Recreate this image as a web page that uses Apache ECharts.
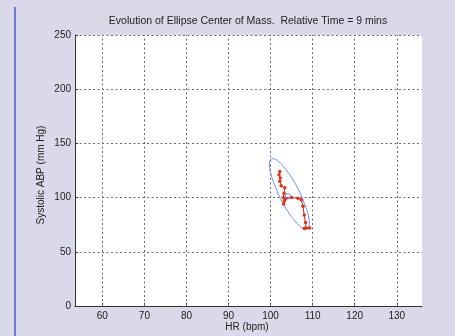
<!DOCTYPE html>
<html><head><meta charset="utf-8">
<script src="https://cdn.jsdelivr.net/npm/echarts@6/dist/echarts.min.js"></script>
<style>html,body{margin:0;padding:0;background:#d9d9e9}#c{width:455px;height:336px}</style>
</head><body><div id="c"></div><script>
const titleText = 'Evolution of Ellipse Center of Mass.  Relative Time = 9 mins';
const xName = 'HR (bpm)';
const yName = 'Systolic ABP (mm Hg)';
const xTicks = [60, 70, 80, 90, 100, 110, 120, 130];
const yTicks = [0, 50, 100, 150, 200, 250];
// ellipse outline
const ellipseHR  = [100.2, 101.3, 102.9, 104.8, 106.6, 108.0, 109.0, 109.2, 108.7, 107.6, 106.0, 104.1, 102.3, 100.9, 99.95, 99.7, 100.2];
const ellipseABP = [136.0, 135.1, 129.4, 119.8, 107.7, 94.9, 83.5, 75.1, 71.0, 71.9, 77.6, 87.2, 99.3, 112.1, 123.5, 131.9, 136.0];
// trajectory of the centre of mass
const pathHR  = [102.2, 102.0, 102.3, 102.2, 102.5, 103.4, 103.2, 103.0, 103.3, 103.1, 103.6, 105.0, 106.5, 107.3, 107.7, 108.0, 108.3, 108.4, 109.3, 108.0];
const pathABP = [124, 121, 118, 115, 111, 109, 104, 100, 97, 94, 99, 100, 99.5, 98, 92, 84, 77, 72, 72, 71.5];
const centerHR = [104.1];
const centerABP = [101.5];

const zip = (a, b) => a.map((v, i) => [v, b[i]]);
const chart = echarts.init(document.getElementById('c'), null, {renderer: 'canvas'});
const font = 'Liberation Sans, Arial, sans-serif';
const gridStyle = {type: [2, 2.5], color: '#6a6a6a', width: 1};
chart.setOption({
  backgroundColor: '#d9d9e9',
  animation: false,
  grid: {left: 75, top: 35, width: 347, height: 271, show: true, backgroundColor: '#ffffff', borderWidth: 0},
  xAxis: {
    type: 'value', min: 53.5, max: 136,
    axisLine: {onZero: false, lineStyle: {color: '#333', width: 1}},
    axisTick: {inside: true, length: 3, customValues: xTicks, lineStyle: {color: '#333'}},
    axisLabel: {customValues: xTicks, color: '#222', fontSize: 10, fontFamily: font, margin: 5},
    splitLine: {show: false}
  },
  yAxis: {
    type: 'value', min: yTicks[0], max: yTicks[yTicks.length - 1], interval: 50,
    axisLine: {show: true, onZero: false, lineStyle: {color: '#333', width: 1}},
    axisTick: {show: true, inside: true, length: 3, lineStyle: {color: '#333'}},
    axisLabel: {color: '#222', fontSize: 10, fontFamily: font, margin: 4},
    splitLine: {show: true, lineStyle: gridStyle}
  },
  graphic: [
    {type: 'rect', left: 14, top: 7, shape: {width: 2, height: 329}, style: {fill: '#6c7fd4'}},
    {type: 'text', x: 248, y: 21, style: {text: titleText, font: '10.5px ' + font, fill: '#222', align: 'center', verticalAlign: 'middle'}},
    {type: 'text', x: 247, y: 327, style: {text: xName, font: '10px ' + font, fill: '#222', align: 'center', verticalAlign: 'middle'}},
    {type: 'text', x: 41, y: 175, rotation: Math.PI / 2, style: {text: yName, font: '10px ' + font, fill: '#222', align: 'center', verticalAlign: 'middle'}}
  ],
  series: [
    {
      type: 'line', data: zip(ellipseHR, ellipseABP), smooth: 0.3, symbol: 'none',
      lineStyle: {color: '#6f8fe6', width: 1}, z: 3,
      markLine: {silent: true, symbol: 'none', label: {show: false}, lineStyle: gridStyle,
        data: xTicks.map(v => ({xAxis: v})), z: 1}
    },
    {
      type: 'line', data: zip(pathHR, pathABP), symbol: 'circle', symbolSize: 3.5,
      lineStyle: {color: '#b8281c', width: 1}, itemStyle: {color: '#e0321e'}, z: 4
    },
    {
      type: 'scatter', data: zip(centerHR, centerABP), symbol: 'circle', symbolSize: 5,
      itemStyle: {color: 'rgba(0,0,0,0)', borderColor: '#5a7be0', borderWidth: 1}, z: 5
    }
  ]
});
</script></body></html>
